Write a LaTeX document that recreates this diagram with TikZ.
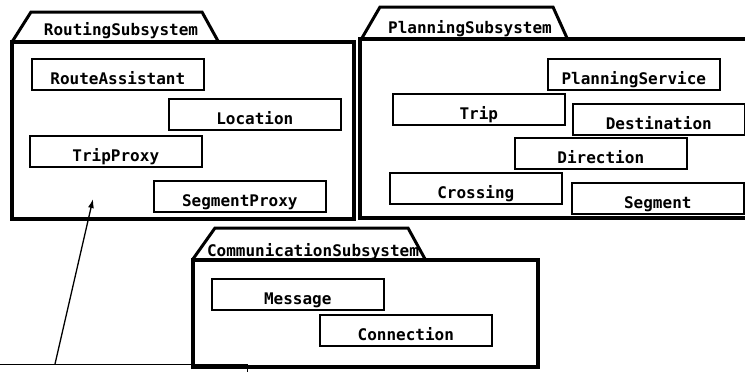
\documentclass[tikz,border=0pt]{standalone}
\usepackage{fontspec}
\setmonofont{DejaVu Sans Mono}
\usetikzlibrary{arrows.meta}

\begin{document}
\begin{tikzpicture}[x=1pt,y=-1pt,
  cls/.style={draw,line width=1.6pt,anchor=north west,minimum width=172,minimum height=31,
    inner xsep=0pt,inner ysep=1.5pt,text height=24.5pt,text depth=3.5pt,
    font=\ttfamily\bfseries\fontsize{16}{18}\selectfont},
  pkg/.style={line width=3.6pt},
  tab/.style={line width=3pt,line join=miter},
  title/.style={anchor=base,inner sep=0pt,font=\ttfamily\bfseries\fontsize{16}{18}\selectfont}]
  \useasboundingbox (0,0) rectangle (745,372);
  \clip (0,0) rectangle (745,372);

  % package bodies
  \draw[pkg] (12,42) rectangle (354,219);
  \draw[pkg] (360,39) rectangle (760,218);
  \draw[pkg] (193,260) rectangle (538,367);

  % package titles and tabs
  \node[title] (routingT) at (121,35) {RoutingSubsystem};
  \node[title] (planningT) at (470,33) {PlanningSubsystem};
  \node[title] (commT) at (313,256) {CommunicationSubsystem};
  \draw[tab] (12,42) -- (31,12) -- (202,12) -- (218,41);
  \draw[tab] (362,38) -- (380,7) -- (553,7) -- (567,38);
  \draw[tab] (193,259) -- (215,228) -- (408,228) -- (425,259);

  % RoutingSubsystem
  \node[cls] (routeassistant) at (31,58) {RouteAssistant};
  \node[cls] (location) at (168,98) {Location};
  \node[cls] (tripproxy) at (29,135) {TripProxy};
  \node[cls] (segmentproxy) at (153,180) {SegmentProxy};

  % PlanningSubsystem
  \node[cls] (planningservice) at (547,58) {PlanningService};
  \node[cls] (trip) at (392,93) {Trip};
  \node[cls] (destination) at (572,103) {Destination};
  \node[cls] (direction) at (514,137) {Direction};
  \node[cls] (crossing) at (389,172) {Crossing};
  \node[cls] (segment) at (571,182) {Segment};

  % CommunicationSubsystem
  \node[cls] (message) at (211,278) {Message};
  \node[cls] (connection) at (319,314) {Connection};

  % note line and pointer
  \coordinate (lineL) at (0,364);
  \coordinate (lineR) at (247,364);
  \coordinate (lineT) at (247,372);
  \coordinate (hook) at (55,364);
  \coordinate (target) at (93,199);
  \draw[line width=1pt] (lineL) -- (lineR) -- (lineT);
  \draw[line width=1.3pt,-{Latex[length=9pt,width=6pt]}] (hook) -- (target);
\end{tikzpicture}
\end{document}
